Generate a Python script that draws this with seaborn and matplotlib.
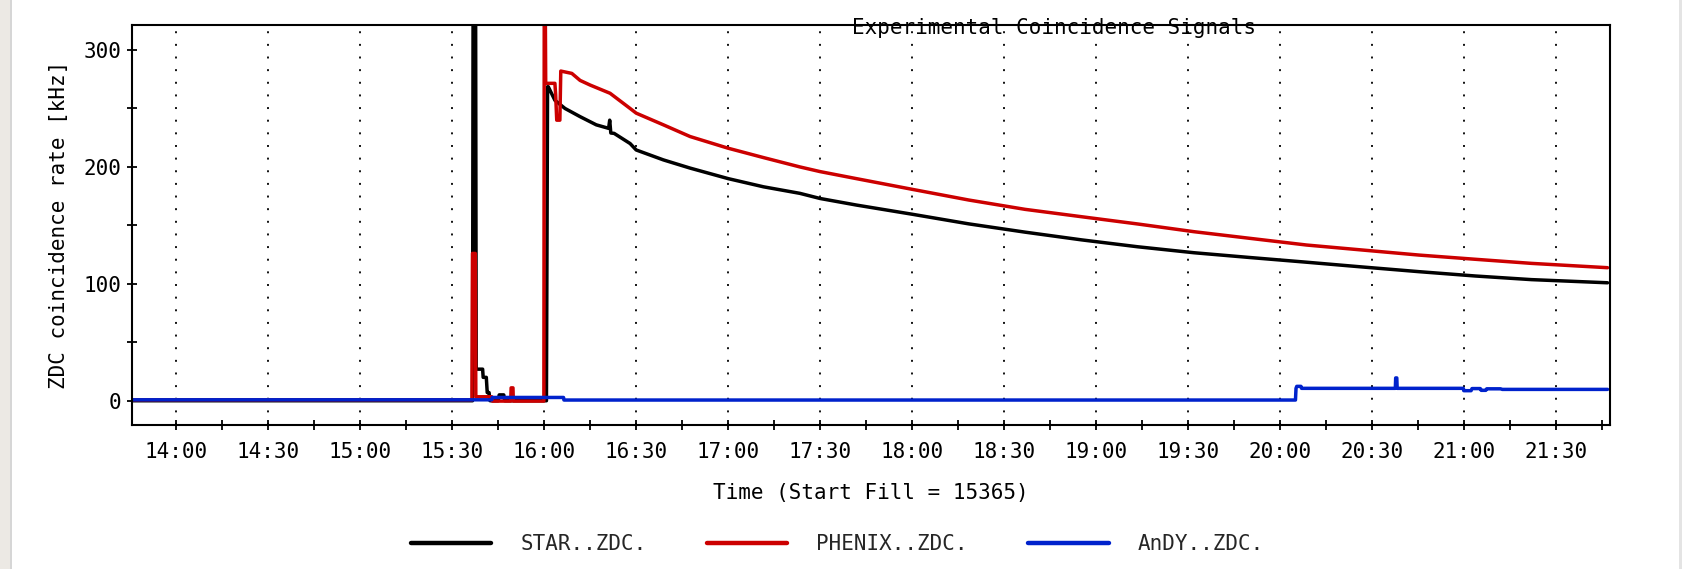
import matplotlib
matplotlib.use("Agg")
import matplotlib.pyplot as plt
from matplotlib.ticker import MultipleLocator, FuncFormatter
from matplotlib.patches import Rectangle
import seaborn as sns
import pandas as pd

# ---- data (time in decimal hours, rate in kHz) ----
star_t = [13.76, 15.610, 15.613, 15.627, 15.630, 15.665, 15.668, 15.685, 15.69, 15.70,
          15.705, 15.75, 15.755, 15.78, 15.785, 16.012, 16.018, 16.022, 16.058, 16.113,
          16.195, 16.283, 16.35, 16.356, 16.362, 16.38, 16.467, 16.5, 16.648, 16.793,
          17.0, 17.192, 17.39, 17.5, 17.697, 18.002, 18.308, 18.615, 18.922, 19.227,
          19.533, 19.838, 20.145, 20.45, 20.757, 21.063, 21.368, 21.782]
star_v = [0, 0, 330, 330, 27, 27, 20, 20, 7, 7,
          0, 0, 5, 5, 0, 0, 268.6, 268.6, 257, 250,
          243, 236, 233, 240, 229, 228.7, 220, 214.5, 206, 199,
          190, 183, 177.4, 173, 167.4, 159.5, 151.3, 144.2, 137.6, 131.7,
          126.6, 122.5, 118.5, 114.4, 110.4, 106.7, 103.6, 100.9]

phenix_t = [13.76, 15.607, 15.610, 15.625, 15.628, 15.715, 15.718, 15.818, 15.82, 15.83,
            15.832, 15.998, 16.0, 16.006, 16.008, 16.058, 16.062, 16.068, 16.085, 16.09,
            16.15, 16.195, 16.25, 16.358, 16.467, 16.5, 16.648, 16.793, 17.0, 17.192,
            17.39, 17.5, 17.697, 18.002, 18.308, 18.615, 18.922, 19.227, 19.533, 19.838,
            20.145, 20.45, 20.757, 21.063, 21.368, 21.782]
phenix_v = [0.8, 0.8, 126, 126, 3.4, 3.4, -0.3, -0.3, 11, 11,
            -0.3, -0.3, 330, 330, 271.5, 271.5, 262, 240, 240, 282,
            280, 274, 270, 263, 250, 246, 236, 226, 216, 208,
            200, 196, 190, 180.8, 171.7, 163.7, 157.4, 151.2, 144.6, 138.9,
            133.2, 128.9, 124.6, 121, 117.5, 113.8]

andy_t = [13.76, 15.715, 15.717, 16.105, 16.107, 20.085, 20.088, 20.092, 20.115, 20.118,
          20.628, 20.63, 20.636, 20.638, 20.998, 21.0, 21.04, 21.045, 21.09, 21.095,
          21.12, 21.125, 21.2, 21.21, 21.782]
andy_v = [0.8, 0.8, 2.8, 2.8, 0.6, 0.6, 10.6, 12.3, 12.3, 10.6,
          10.6, 19.5, 19.5, 10.6, 10.6, 8.6, 8.6, 10.4, 10.4, 8.9,
          8.9, 10.2, 10.2, 9.7, 9.7]

labels = ["STAR..ZDC.", "PHENIX..ZDC.", "AnDY..ZDC."]
colors = ["#000000", "#cc0000", "#0022cc"]

sns.set_style("white")
plt.rcParams["font.family"] = ["DejaVu Sans Mono", "DejaVu Sans"]

W, H = 1682, 569
fig = plt.figure(figsize=(W / 100, H / 100), dpi=100)
fig.patch.set_facecolor("white")
ax = fig.add_axes([132.3 / W, 1 - 424.7 / H, (1610.3 - 132.3) / W, (424.7 - 25) / H])

# side strips of the window
fig.patches.append(Rectangle((0, 0), 10 / W, 1, transform=fig.transFigure,
                             facecolor="#ece9e4", edgecolor="none", zorder=0))
fig.patches.append(Rectangle((10 / W, 0), 2 / W, 1, transform=fig.transFigure,
                             facecolor="#d6d6d6", edgecolor="none", zorder=0))
fig.patches.append(Rectangle((1679 / W, 0), 3 / W, 1, transform=fig.transFigure,
                             facecolor="#e4e4e4", edgecolor="none", zorder=0))

series = [(star_t, star_v), (phenix_t, phenix_v), (andy_t, andy_v)]
for (t, v), lab, col in zip(series, labels, colors):
    df = pd.DataFrame({"t": t, "v": v})
    sns.lineplot(data=df, x="t", y="v", ax=ax, color=col, lw=2.5, label=lab,
                 estimator=None, sort=False, legend=False)

ax.set_xlim(13.76, 21.797)
ax.set_ylim(-20.5, 321.4)

def hhmm(x, pos):
    h = int(x + 1e-6)
    m = int(round((x - h) * 60))
    if m == 60:
        h, m = h + 1, 0
    return f"{h:02d}:{m:02d}"

ax.xaxis.set_major_locator(MultipleLocator(0.5))
ax.xaxis.set_minor_locator(MultipleLocator(0.25))
ax.xaxis.set_major_formatter(FuncFormatter(hhmm))
ax.yaxis.set_major_locator(MultipleLocator(100))
ax.yaxis.set_minor_locator(MultipleLocator(50))

ax.tick_params(axis="both", which="both", direction="inout", length=7.2, width=1.3,
               color="black", labelsize=15, labelcolor="black")
ax.tick_params(axis="x", which="both", bottom=True, top=False, pad=9)
ax.tick_params(axis="y", which="both", left=True, right=False, pad=4)

ax.grid(False)
ax.grid(axis="x", which="major", linestyle=(0, (1, 5.5)), lw=1.4, color="#111111")
ax.set_axisbelow(True)

for sp in ax.spines.values():
    sp.set_visible(True)
    sp.set_color("black")
    sp.set_linewidth(1.5)

ax.set_xlabel("")
ax.set_ylabel("")

fig.text(1054.5 / W, 1 - 34 / H, "Experimental Coincidence Signals", ha="center",
         va="baseline", fontsize=15, color="black")
fig.text(59 / W, 1 - 225 / H, "ZDC coincidence rate [kHz]", rotation=90,
         ha="center", va="center", fontsize=15, color="black")
fig.text(871 / W, 1 - 493.5 / H, "Time (Start Fill = 15365)", ha="center",
         va="center", fontsize=15, color="black")

handles = ax.get_lines()[:3]
leg = fig.legend(handles, labels, loc="center", bbox_to_anchor=(837.5 / W, 1 - 544 / H),
                 ncol=3, frameon=False, fontsize=15, handlelength=3.85,
                 handletextpad=1.4, columnspacing=2.9)
for lh in leg.get_lines():
    lh.set_linewidth(3.2)

fig.savefig("out.png", dpi=100)
